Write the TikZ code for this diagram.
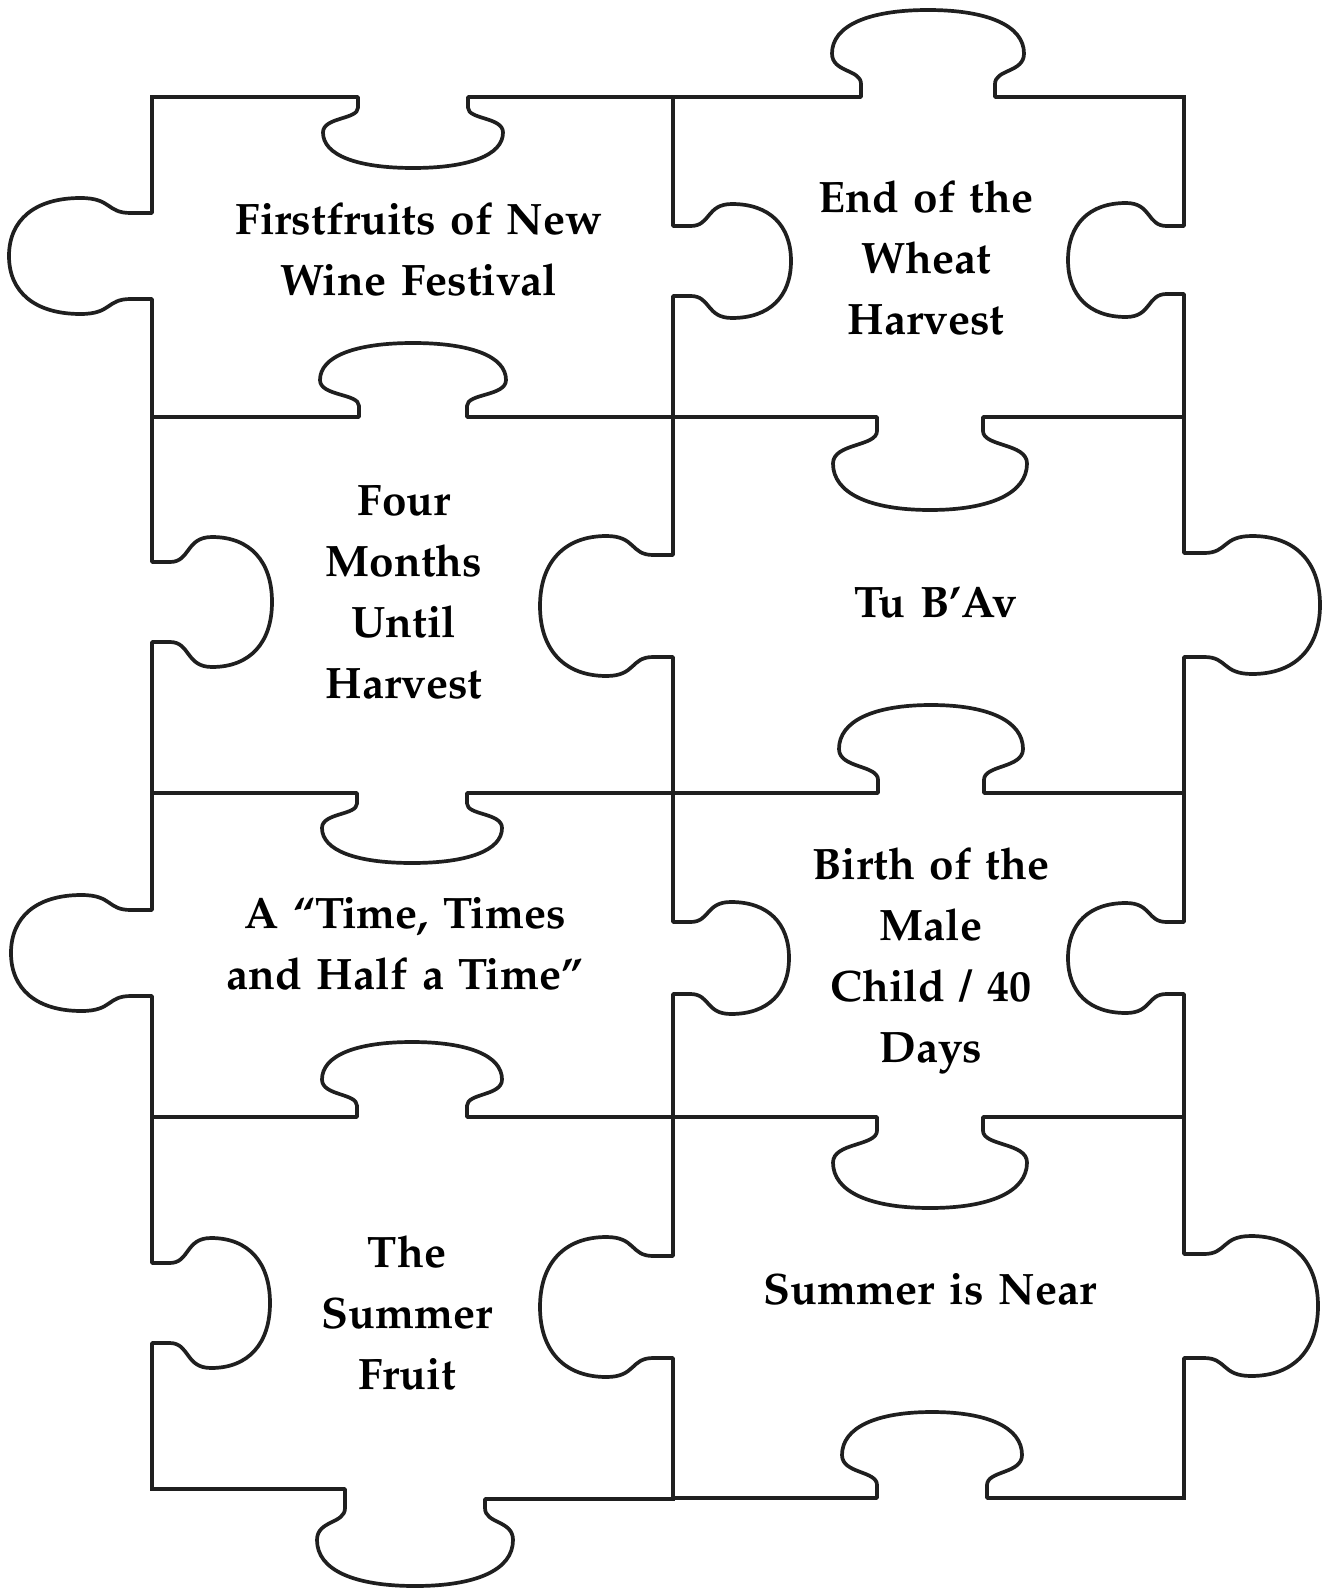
\documentclass[tikz,border=0pt]{standalone}
\usepackage[T1]{fontenc}
\renewcommand{\rmdefault}{ppl}
\tikzset{
  pz/.style={line width=3.7pt, draw=black!88, line join=round, line cap=rect},
  lbl/.style={font=\bfseries\fontsize{44}{61}\selectfont, text width=460pt, align=center, inner sep=0pt, anchor=base}
}
% horizontal edge: x0, x1, y, cx, neck half, bulb half, depth (signed, + = down)
\newcommand{\hedge}[7]{\draw[pz] (#1,#3) -- ({#4-#5},#3) -- ({#4-#5},{#3+0.15*(#7)})
 .. controls ({#4-#5},{#3+0.32*(#7)}) and ({#4-#6},{#3+0.28*(#7)}) .. ({#4-#6},{#3+0.5*(#7)})
 .. controls ({#4-#6},{#3+0.82*(#7)}) and ({#4-0.62*#6},{#3+#7}) .. (#4,{#3+#7})
 .. controls ({#4+0.62*#6},{#3+#7}) and ({#4+#6},{#3+0.82*(#7)}) .. ({#4+#6},{#3+0.5*(#7)})
 .. controls ({#4+#6},{#3+0.28*(#7)}) and ({#4+#5},{#3+0.32*(#7)}) .. ({#4+#5},{#3+0.15*(#7)})
 -- ({#4+#5},#3) -- (#2,#3);}
% vertical edge: y0, y1, x, cy, neck half, bulb half, depth (signed, + = right)
\newcommand{\vedge}[7]{\draw[pz] (#3,#1) -- (#3,{#4-#5}) -- ({#3+0.15*(#7)},{#4-#5})
 .. controls ({#3+0.32*(#7)},{#4-#5}) and ({#3+0.28*(#7)},{#4-#6}) .. ({#3+0.5*(#7)},{#4-#6})
 .. controls ({#3+0.82*(#7)},{#4-#6}) and ({#3+#7},{#4-0.62*#6}) .. ({#3+#7},#4)
 .. controls ({#3+#7},{#4+0.62*#6}) and ({#3+0.82*(#7)},{#4+#6}) .. ({#3+0.5*(#7)},{#4+#6})
 .. controls ({#3+0.28*(#7)},{#4+#6}) and ({#3+0.32*(#7)},{#4+#5}) .. ({#3+0.15*(#7)},{#4+#5})
 -- (#3,{#4+#5}) -- (#3,#2);}
\begin{document}
\begin{tikzpicture}[x=1pt,y=-1pt]
\useasboundingbox[fill=white] (0,0) rectangle (1328,1589);
% horizontal edges
\hedge{152}{673}{97}{413}{55}{90}{71}
\hedge{673}{1184}{97}{928}{67}{96}{-87}
\hedge{152}{673}{417}{413}{54}{93}{-74}
\hedge{673}{1184}{417}{930}{53}{97}{93}
\hedge{152}{673}{793}{412}{55}{90}{70}
\hedge{673}{1184}{793}{931}{53}{92}{-88}
\hedge{152}{673}{1117}{412}{55}{90}{-75}
\hedge{673}{1184}{1117}{930}{53}{97}{91}
\draw[pz] (152,1489) -- (345,1489) -- (345,1508)
 .. controls (345,1524) and (317,1520) .. (317,1540)
 .. controls (317,1570) and (354,1586) .. (415,1586)
 .. controls (476,1586) and (513,1570) .. (513,1540)
 .. controls (513,1520) and (485,1524) .. (485,1508)
 -- (485,1499) -- (673,1499);
\hedge{673}{1184}{1498}{932}{55}{90}{-86}
% vertical edges
\vedge{97}{417}{152}{256}{43}{58}{-143}
\vedge{417}{793}{152}{602}{40}{65}{120}
\vedge{793}{1117}{152}{953}{43}{58}{-141}
\vedge{1117}{1489}{152}{1303}{40}{65}{118}
\vedge{97}{417}{673}{261}{35}{57}{118}
\vedge{417}{793}{673}{606}{51}{70}{-133}
\vedge{793}{1117}{673}{958}{36}{56}{116}
\vedge{1117}{1499}{673}{1307}{51}{70}{-133}
\vedge{97}{417}{1184}{260}{34}{57}{-116}
\vedge{417}{793}{1184}{605}{52}{69}{136}
\vedge{793}{1117}{1184}{958}{36}{55}{-116}
\vedge{1117}{1498}{1184}{1306}{52}{70}{134}
% labels
\node[lbl] (p1) at (419,235) {Firstfruits of New\\Wine Festival};
\node[lbl] (p2) at (926,213) {End of the\\Wheat\\Harvest};
\node[lbl] (p3) at (404,515) {Four\\Months\\Until\\Harvest};
\node[lbl] (p4) at (936,617) {Tu B'Av};
\node[lbl] (p5) at (405,928) {A ``Time, Times\\and Half a Time''};
\node[lbl] (p6) at (931,879) {Birth of the\\Male\\Child / 40\\Days};
\node[lbl] (p7) at (407,1267) {The\\Summer\\Fruit};
\node[lbl] (p8) at (930,1304) {Summer is Near};
\end{tikzpicture}
\end{document}
